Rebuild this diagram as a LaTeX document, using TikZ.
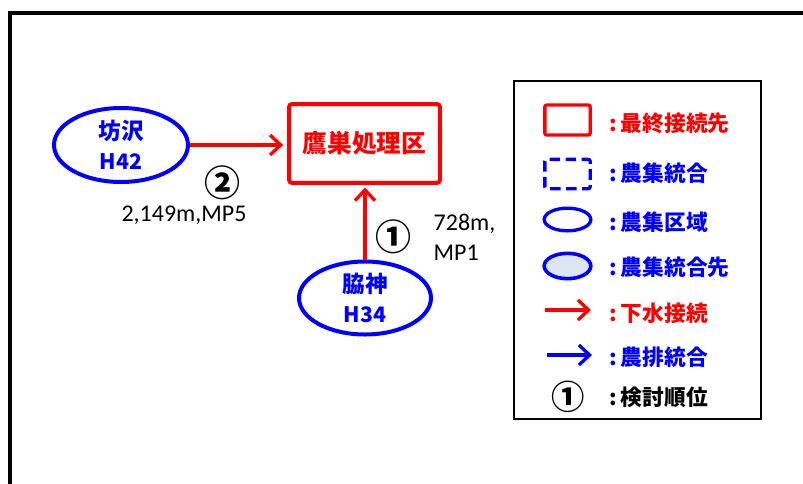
\documentclass[tikz,border=0pt]{standalone}
\usepackage{fontspec}
\setmainfont{Carlito}
\newfontfamily\jpfont{Noto Sans CJK JP}
\usetikzlibrary{arrows.meta, positioning, shapes.geometric}
\definecolor{areafill}{RGB}{220,230,242}

\begin{document}
\begin{tikzpicture}[x=0.75pt, y=-0.75pt,
    area/.style={ellipse, draw=blue, line width=3pt, align=center, inner sep=0pt, text=blue},
    dest/.style={draw=red, line width=3pt, rounded corners=2pt, inner sep=0pt, text=red},
    sewer/.style={red, line width=2.5pt, -{Straight Barb[length=8pt, width=15pt]}},
    merge/.style={blue, line width=2.5pt, -{Straight Barb[length=8pt, width=15pt]}},
    jp/.style={font=\jpfont\bfseries\fontsize{#1}{#1}\selectfont},
    lbl/.style={font=\fontsize{18}{22.5}\selectfont},
    legtext/.style={anchor=west, font=\jpfont\bfseries\fontsize{16.3}{18}\selectfont}]
    \useasboundingbox (0,0) rectangle (803,483);
    \draw[line width=3pt] (9.5,12.5) rectangle (830,510);

    % target and the two areas
    \node[dest, minimum width=113pt, minimum height=59pt, jp=18.5] (takanosu) at (364.5,143.5) {鷹巣処理区};
    \node[area, minimum width=100.5pt, minimum height=55.5pt] (bousawa) at (121,145)
        {{\jpfont\bfseries\fontsize{17}{17}\selectfont 坊沢}\\[8pt]{\jpfont\bfseries\fontsize{16}{16}\selectfont H42}};
    \node[area, minimum width=99pt, minimum height=54.75pt] (wakigami) at (365,298)
        {{\jpfont\bfseries\fontsize{17}{17}\selectfont 脇神}\\[8pt]{\jpfont\bfseries\fontsize{16}{16}\selectfont H34}};

    % connections
    \draw[sewer, shorten >=3pt] (bousawa.east) -- (bousawa.east -| takanosu.west);
    \draw[sewer, shorten >=2pt] (wakigami.north) -- (wakigami.north |- takanosu.south);

    % order and length labels
    \node[jp=27] (ord2) at (222,183) {②};
    \node[lbl] (len2) at (184,215) {2,149m,MP5};
    \node[jp=27] (ord1) at (393,237) {①};
    \node[lbl, anchor=west, align=left] (len1) at (429,237) {728m,\\MP1};

    % legend
    \draw[line width=1.5pt] (514,81) rectangle (761,419);
    \node[draw=red, line width=2.5pt, rounded corners=1.5pt, minimum width=34pt, minimum height=22.5pt] (legdest) at (567.5,120) {};
    \node[legtext, text=red] (legdesttxt) at (605,123) {:\,最終接続先};
    \node[draw=blue, line width=2.5pt, dash pattern=on 8pt off 4pt, dash phase=3pt, rounded corners=1.5pt, minimum width=34pt, minimum height=22pt] (legmerge) at (567.5,174) {};
    \node[legtext, text=blue] (legmergetxt) at (605,173) {:\,農集統合};
    \node[ellipse, draw=blue, line width=2.5pt, minimum width=35pt, minimum height=17pt] (legarea) at (567.5,219.5) {};
    \node[legtext, text=blue] (legareatxt) at (605,222) {:\,農集区域};
    \node[ellipse, draw=blue, fill=areafill, line width=2.7pt, minimum width=35pt, minimum height=19pt] (legareadest) at (567.5,266) {};
    \node[legtext, text=blue] (legareadesttxt) at (605,267) {:\,農集統合先};
    \coordinate (sewerA) at (545,310);
    \coordinate (sewerB) at (591,310);
    \draw[sewer] (sewerA) -- (sewerB);
    \node[legtext, text=red] (legsewertxt) at (605,313) {:\,下水接続};
    \coordinate (mergeA) at (547,355);
    \coordinate (mergeB) at (592,355);
    \draw[merge] (mergeA) -- (mergeB);
    \node[legtext, text=blue] (legmergearrtxt) at (605,357) {:\,農排統合};
    \node[jp=25] (legord) at (568,397) {①};
    \node[legtext] (legordtxt) at (605,397) {:\,検討順位};
\end{tikzpicture}
\end{document}
